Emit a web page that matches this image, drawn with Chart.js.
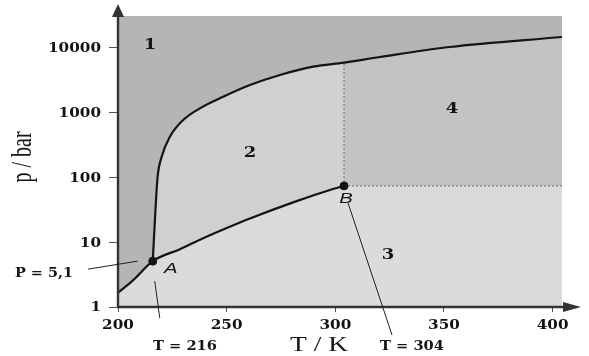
<!DOCTYPE html>
<html>
<head>
<meta charset="utf-8">
<script src="https://cdn.jsdelivr.net/npm/chart.js@4/dist/chart.umd.min.js"></script>
<style>
  html, body { margin: 0; padding: 0; background: #fff; }
  #wrap { width: 589px; height: 356px; }
</style>
</head>
<body>
<div id="wrap"><canvas id="phaseChart" width="589" height="356"></canvas></div>
<script>
// CO2 phase diagram (T in K, p in bar)
const meltT = [216, 217.2, 218.2, 220.1, 223.9, 230.0, 237.7, 248.4, 260.7, 274.5, 289.9, 304, 320.5, 352.7, 404.3];
const meltP = [5.1, 30, 100, 208, 424, 767, 1160, 1750, 2650, 3790, 5090, 5870, 7180, 10240, 14600];

// sublimation + vaporisation curve, from 200 K through A up to B
const vapT = [200, 207, 216, 228.5, 237.7, 250, 260.7, 282.2, 297.5, 304];
const vapP = [1.66, 2.6, 5.1, 7.8, 10.9, 16.5, 23.2, 43.0, 63.8, 73.8];

const tripleT = 216, tripleP = 5.1;   // A
const critT = 304, critP = 73.8;      // B
const tMin = 200, tMax = 404.3;
const pMin = 1, pMax = 30800;

const tempTicks = [200, 250, 300, 350, 400];
const pressureTicks = [1, 10, 100, 1000, 10000];

const regionLabels = [
    { text: '1', t: 214.7, p: 11800 },
    { text: '2', t: 260.7, p: 246 },
    { text: '3', t: 324.2, p: 6.6 },
    { text: '4', t: 353.7, p: 1175 }
];

const colSolid = '#b5b5b5';
const colLiquid = '#d0d0d0';
const colGas = '#dbdbdb';
const colSuper = '#c3c3c3';
const ink = '#141414';

function pts(xs, ys) {
    return xs.map((x, i) => ({ x: x, y: ys[i] }));
}

const meltPts = pts(meltT, meltP);
const vapPts = pts(vapT, vapP);
const superPts = meltPts.filter(pt => pt.x >= critT);
const critTop = superPts[0].y;

// text helper, the original picture is stretched sideways
function stretchText(ctx, s, x, y, font, align, sx, rotate) {
    ctx.save();
    ctx.translate(x, y);
    ctx.scale(sx, 1);
    if (rotate) ctx.rotate(-Math.PI / 2);
    ctx.font = font;
    ctx.fillStyle = ink;
    ctx.textAlign = align;
    ctx.textBaseline = rotate ? 'middle' : 'alphabetic';
    ctx.fillText(s, 0, 0);
    ctx.restore();
}

function line(ctx, x1, y1, x2, y2, w) {
    ctx.beginPath();
    ctx.moveTo(x1, y1);
    ctx.lineTo(x2, y2);
    ctx.lineWidth = w;
    ctx.stroke();
}

const decor = {
    id: 'decor',
    beforeDatasetsDraw(chart) {
        const { ctx, chartArea: a } = chart;
        ctx.save();
        ctx.fillStyle = colSolid;
        ctx.fillRect(a.left, a.top, a.right - a.left, a.bottom - a.top);
        ctx.restore();
    },
    afterDraw(chart) {
        const { ctx, chartArea: a, scales: { x, y } } = chart;
        ctx.save();
        ctx.strokeStyle = '#333';
        ctx.fillStyle = '#333';

        // axes with arrows
        line(ctx, a.left, a.bottom + 1, a.left, 14, 2.4);
        line(ctx, a.left - 1, a.bottom, 568, a.bottom, 2.4);
        ctx.beginPath();
        ctx.moveTo(a.left, 4); ctx.lineTo(a.left - 6, 17); ctx.lineTo(a.left + 6, 17);
        ctx.closePath(); ctx.fill();
        ctx.beginPath();
        ctx.moveTo(581, a.bottom); ctx.lineTo(563, a.bottom - 5); ctx.lineTo(563, a.bottom + 5);
        ctx.closePath(); ctx.fill();

        // tick labels
        const tickFont = 'bold 12px "DejaVu Serif"';
        pressureTicks.forEach(v => {
            stretchText(ctx, String(v), 101, y.getPixelForValue(v) + 4.4, tickFont, 'right', 1.27);
        });
        tempTicks.forEach(v => {
            stretchText(ctx, String(v), x.getPixelForValue(v), 328.5, tickFont, 'center', 1.27);
        });

        // axis titles
        stretchText(ctx, 'p / bar', 23, 157, '20px "Liberation Serif"', 'center', 1.45, true);
        stretchText(ctx, 'T / K', 319, 350.5, '22px "Liberation Serif"', 'center', 1.25);

        // region numbers
        regionLabels.forEach(r => {
            stretchText(ctx, r.text, x.getPixelForValue(r.t), y.getPixelForValue(r.p) + 5.5,
                'bold 15px "DejaVu Serif"', 'center', 1.2);
        });

        // A and B
        const ax = x.getPixelForValue(tripleT), ay = y.getPixelForValue(tripleP);
        const bx = x.getPixelForValue(critT), by = y.getPixelForValue(critP);
        stretchText(ctx, 'A', ax + 18, ay + 12, 'italic 15px "Liberation Sans"', 'center', 1.35);
        stretchText(ctx, 'B', bx + 2, by + 17.5, 'italic 15px "Liberation Sans"', 'center', 1.35);

        // leader lines and their labels
        ctx.strokeStyle = '#222';
        line(ctx, 88, ay + 8, ax - 15, ay, 1);
        line(ctx, ax + 2, ay + 20, ax + 7, a.bottom + 11, 1);
        line(ctx, bx + 4, by + 17, bx + 48, 335, 1);
        const noteFont = 'bold 12px "DejaVu Serif"';
        stretchText(ctx, 'P = 5,1', 44, 277, noteFont, 'center', 1.2);
        stretchText(ctx, 'T = 216', 185, 349.5, noteFont, 'center', 1.22);
        stretchText(ctx, 'T = 304', 412, 349.5, noteFont, 'center', 1.22);
        ctx.restore();
    }
};

const noLine = 'rgba(0,0,0,0)';

new Chart(document.getElementById('phaseChart'), {
    type: 'line',
    data: {
        datasets: [
            { label: 'liquid', data: meltPts, fill: 'start', backgroundColor: colLiquid,
              borderColor: noLine, pointRadius: 0, cubicInterpolationMode: 'monotone', order: 9 },
            { label: 'supercritical', data: superPts, fill: { value: critP }, backgroundColor: colSuper,
              borderColor: noLine, pointRadius: 0, cubicInterpolationMode: 'monotone', order: 8 },
            { label: 'gas', data: vapPts.concat([{ x: tMax, y: critP }]), fill: 'start', backgroundColor: colGas,
              borderColor: noLine, pointRadius: 0, cubicInterpolationMode: 'monotone', order: 7 },
            { label: 'isobar', data: [{ x: critT, y: critP }, { x: tMax, y: critP }], fill: false,
              borderColor: '#808080', borderWidth: 1.2, borderDash: [2, 2], pointRadius: 0, order: 5 },
            { label: 'isotherm', data: [{ x: critT, y: critP }, { x: critT, y: critTop }], fill: false,
              borderColor: '#808080', borderWidth: 1.2, borderDash: [2, 2], pointRadius: 0, order: 5 },
            { label: 'melting', data: meltPts, fill: false, borderColor: ink, borderWidth: 2.2,
              pointRadius: 0, cubicInterpolationMode: 'monotone', order: 3 },
            { label: 'vaporisation', data: vapPts, fill: false, borderColor: ink, borderWidth: 2.2,
              pointRadius: 0, cubicInterpolationMode: 'monotone', order: 3 },
            { label: 'points', data: [{ x: tripleT, y: tripleP }, { x: critT, y: critP }], showLine: false,
              pointRadius: 4, pointBackgroundColor: ink, pointBorderColor: ink, order: 1 }
        ]
    },
    options: {
        responsive: false,
        animation: false,
        layout: { padding: { top: 16, right: 27, left: 0, bottom: 0 } },
        plugins: { legend: { display: false }, tooltip: { enabled: false } },
        scales: {
            x: {
                type: 'linear', min: tMin, max: tMax,
                afterBuildTicks: axis => { axis.ticks = tempTicks.map(v => ({ value: v })); },
                afterFit: axis => { axis.height = 49; },
                ticks: { display: false },
                grid: { drawOnChartArea: false, drawTicks: true, tickLength: 5, color: '#555', lineWidth: 1 },
                border: { display: false }
            },
            y: {
                type: 'logarithmic', min: pMin, max: pMax,
                afterBuildTicks: axis => { axis.ticks = pressureTicks.map(v => ({ value: v })); },
                afterFit: axis => { axis.width = 118; },
                ticks: { display: false },
                grid: { drawOnChartArea: false, drawTicks: true, tickLength: 9, color: '#555', lineWidth: 1 },
                border: { display: false }
            }
        }
    },
    plugins: [decor]
});
</script>
</body>
</html>
